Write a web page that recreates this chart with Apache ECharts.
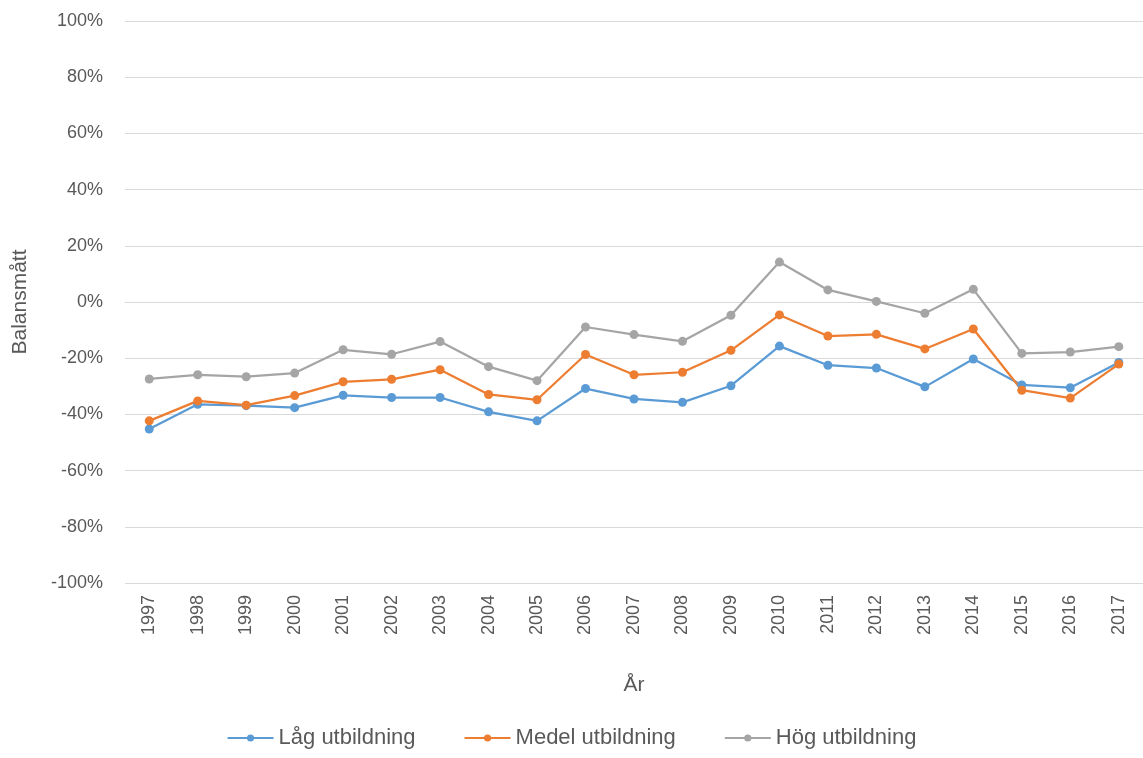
<!DOCTYPE html>
<html>
<head>
<meta charset="utf-8">
<script src="https://cdn.jsdelivr.net/npm/echarts@6/dist/echarts.min.js"></script>
<style>
  html, body { margin: 0; padding: 0; background: #fff; }
  #chart { width: 1143px; height: 758px; }
</style>
</head>
<body>
<div id="chart"></div>
<script>
var years = ['1997','1998','1999','2000','2001','2002','2003','2004','2005','2006','2007',
             '2008','2009','2010','2011','2012','2013','2014','2015','2016','2017'];
var lag = [-45.2,-36.4,-36.9,-37.6,-33.2,-34.0,-34.0,-39.1,-42.3,-30.8,-34.5,
           -35.7,-29.8,-15.7,-22.5,-23.5,-30.2,-20.3,-29.5,-30.5,-21.5];
var medel = [-42.3,-35.2,-36.7,-33.3,-28.4,-27.5,-24.1,-32.9,-34.8,-18.7,-25.9,
             -25.0,-17.2,-4.6,-12.1,-11.5,-16.7,-9.6,-31.4,-34.2,-22.1];
var hog = [-27.4,-25.9,-26.6,-25.3,-17.0,-18.6,-14.1,-23.0,-28.0,-8.9,-11.6,
           -14.0,-4.7,14.2,4.3,0.2,-4.0,4.5,-18.3,-17.8,-15.9];

var font = 'Liberation Sans';
var txt = '#595959';

function serie(name, data, color) {
    return {
        name: name,
        type: 'line',
        data: data,
        symbol: 'circle',
        symbolSize: 9,
        lineStyle: { width: 2.25, color: color },
        itemStyle: { color: color }
    };
}

var myChart = echarts.init(document.getElementById('chart'));
myChart.setOption({
    animation: false,
    textStyle: { fontFamily: font },
    grid: { left: 125, right: 0, top: 21, bottom: 175, outerBoundsMode: 'none' },
    legend: {
        bottom: 4,
        left: 'center',
        itemWidth: 46,
        itemHeight: 9,
        itemGap: 48,
        textStyle: { fontFamily: font, fontSize: 22, color: txt },
        data: ['Låg utbildning', 'Medel utbildning', 'Hög utbildning']
    },
    xAxis: {
        type: 'category',
        data: years,
        name: 'År',
        nameLocation: 'middle',
        nameGap: 92,
        nameTextStyle: { fontFamily: font, fontSize: 21, color: txt },
        axisLine: { lineStyle: { color: '#d9d9d9' } },
        axisTick: { show: false },
        axisLabel: { rotate: 90, fontSize: 18, color: txt, margin: 12 }
    },
    yAxis: {
        type: 'value',
        min: -100,
        max: 100,
        interval: 20,
        name: 'Balansmått',
        nameLocation: 'middle',
        nameGap: 94,
        nameTextStyle: { fontFamily: font, fontSize: 21, color: txt },
        axisLine: { show: false },
        axisTick: { show: false },
        splitLine: { lineStyle: { color: '#d9d9d9', width: 1 } },
        axisLabel: { formatter: '{value}%', fontSize: 18, color: txt, margin: 22 }
    },
    series: [
        serie('Låg utbildning', lag, '#5B9BD5'),
        serie('Medel utbildning', medel, '#ED7D31'),
        serie('Hög utbildning', hog, '#A5A5A5')
    ]
});
</script>
</body>
</html>
